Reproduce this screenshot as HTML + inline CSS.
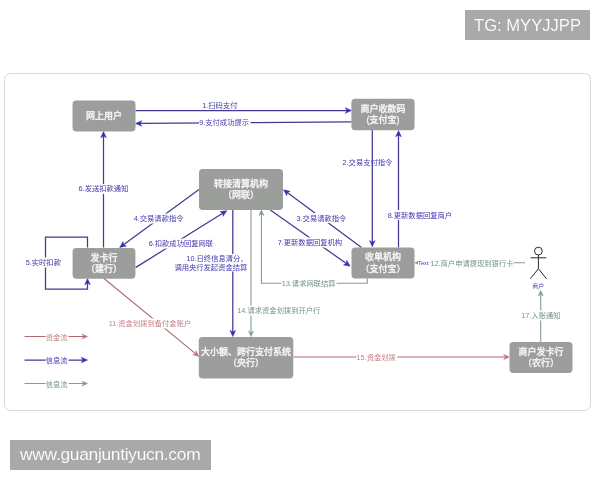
<!DOCTYPE html>
<html lang="zh"><head><meta charset="utf-8"><title>diagram</title>
<style>
html,body{margin:0;padding:0;background:#fff}
body{width:600px;height:480px;position:relative;overflow:hidden;font-family:"Liberation Sans","Noto Sans CJK SC",sans-serif}
.frame{position:absolute;left:3.8px;top:72.6px;width:587px;height:338.4px;border:1.3px solid #d8d8dc;border-radius:6.5px;box-sizing:border-box;background:#fff}
.tag{position:absolute;will-change:transform;background:#a9a9a9;color:#fff;font-size:16.6px;white-space:nowrap;display:flex;align-items:center;justify-content:center;-webkit-text-stroke:0.12px #a9a9a9;}
.tag span{position:relative;top:1px}
.t2 span{top:0.2px;left:-0.3px}
.t1{left:465px;top:10px;width:125px;height:29.5px}
.t2{left:10px;top:440px;width:201px;height:29.5px;font-size:17.4px;letter-spacing:-0.3px}
</style></head><body>
<div class="frame"></div>
<svg width="600" height="480" viewBox="0 0 600 480" style="position:absolute;left:0;top:0;will-change:transform;filter:blur(0.35px);font-family:'Liberation Sans','Noto Sans CJK SC',sans-serif">
<path d="M135.50 110.50 L348.50 110.50" fill="none" stroke="#403a93" stroke-width="1.25"/>
<polygon points="351.50,110.50 345.30,113.30 346.90,110.50 345.30,107.70" fill="#352fb0" stroke="#352fb0" stroke-width="0.5" stroke-linejoin="miter"/>
<path d="M351.50 121.80 L138.50 123.48" fill="none" stroke="#403a93" stroke-width="1.25"/>
<polygon points="135.50,123.50 141.68,120.65 140.10,123.46 141.72,126.25" fill="#352fb0" stroke="#352fb0" stroke-width="0.5" stroke-linejoin="miter"/>
<path d="M372.30 130.00 L372.30 243.80" fill="none" stroke="#403a93" stroke-width="1.25"/>
<polygon points="372.30,246.80 369.50,240.60 372.30,242.20 375.10,240.60" fill="#352fb0" stroke="#352fb0" stroke-width="0.5" stroke-linejoin="miter"/>
<path d="M398.50 247.50 L398.50 133.50" fill="none" stroke="#403a93" stroke-width="1.25"/>
<polygon points="398.50,130.50 401.30,136.70 398.50,135.10 395.70,136.70" fill="#352fb0" stroke="#352fb0" stroke-width="0.5" stroke-linejoin="miter"/>
<path d="M103.50 247.50 L103.50 134.50" fill="none" stroke="#403a93" stroke-width="1.25"/>
<polygon points="103.50,131.50 106.30,137.70 103.50,136.10 100.70,137.70" fill="#352fb0" stroke="#352fb0" stroke-width="0.5" stroke-linejoin="miter"/>
<path d="M87.50 247.50 L87.50 237.00 L45.50 237.00 L45.50 289.00 L87.50 289.00 L87.50 281.50" fill="none" stroke="#403a93" stroke-width="1.25"/>
<polygon points="87.50,278.50 90.30,284.70 87.50,283.10 84.70,284.70" fill="#352fb0" stroke="#352fb0" stroke-width="0.5" stroke-linejoin="miter"/>
<path d="M199.00 189.50 L122.12 245.73" fill="none" stroke="#403a93" stroke-width="1.25"/>
<polygon points="119.70,247.50 123.05,241.58 123.41,244.78 126.36,246.10" fill="#352fb0" stroke="#352fb0" stroke-width="0.5" stroke-linejoin="miter"/>
<path d="M135.50 267.60 L224.25 212.29" fill="none" stroke="#403a93" stroke-width="1.25"/>
<polygon points="226.80,210.70 223.02,216.36 222.90,213.13 220.06,211.60" fill="#352fb0" stroke="#352fb0" stroke-width="0.5" stroke-linejoin="miter"/>
<path d="M361.50 247.50 L285.91 191.58" fill="none" stroke="#403a93" stroke-width="1.25"/>
<polygon points="283.50,189.80 290.15,191.24 287.20,192.54 286.82,195.74" fill="#352fb0" stroke="#352fb0" stroke-width="0.5" stroke-linejoin="miter"/>
<path d="M270.30 210.00 L347.75 264.47" fill="none" stroke="#403a93" stroke-width="1.25"/>
<polygon points="350.20,266.20 343.52,264.92 346.44,263.55 346.74,260.34" fill="#352fb0" stroke="#352fb0" stroke-width="0.5" stroke-linejoin="miter"/>
<path d="M232.80 210.00 L232.80 333.60" fill="none" stroke="#403a93" stroke-width="1.25"/>
<polygon points="232.80,336.60 230.00,330.40 232.80,332.00 235.60,330.40" fill="#352fb0" stroke="#352fb0" stroke-width="0.5" stroke-linejoin="miter"/>
<path d="M251.00 210.00 L251.00 333.50" fill="none" stroke="#879c93" stroke-width="1.1"/>
<polygon points="251.00,336.50 248.50,330.90 251.00,332.90 253.50,330.90" fill="#789d8c" stroke="#789d8c" stroke-width="0.5" stroke-linejoin="miter"/>
<path d="M367.30 278.50 L367.30 283.30 L261.40 283.30 L261.40 213.00" fill="none" stroke="#879c93" stroke-width="1.1"/>
<polygon points="261.40,210.00 263.90,215.60 261.40,213.60 258.90,215.60" fill="#789d8c" stroke="#789d8c" stroke-width="0.5" stroke-linejoin="miter"/>
<path d="M525.00 262.80 L417.80 262.80" fill="none" stroke="#879c93" stroke-width="1.1"/>
<polygon points="414.80,262.80 418.30,261.20 417.50,262.80 418.30,264.40" fill="#789d8c" stroke="#789d8c" stroke-width="0.5" stroke-linejoin="miter"/>
<path d="M540.70 342.00 L540.70 293.50" fill="none" stroke="#879c93" stroke-width="1.1"/>
<polygon points="540.70,290.50 543.20,296.10 540.70,294.10 538.20,296.10" fill="#789d8c" stroke="#789d8c" stroke-width="0.5" stroke-linejoin="miter"/>
<path d="M104.00 278.50 L196.38 354.40" fill="none" stroke="#b0686f" stroke-width="1.1"/>
<polygon points="198.70,356.30 192.79,354.68 195.92,354.01 195.96,350.81" fill="#c06a78" stroke="#c06a78" stroke-width="0.5" stroke-linejoin="miter"/>
<path d="M293.50 357.00 L506.30 357.00" fill="none" stroke="#b0686f" stroke-width="1.1"/>
<polygon points="509.30,357.00 503.70,359.50 505.70,357.00 503.70,354.50" fill="#c06a78" stroke="#c06a78" stroke-width="0.5" stroke-linejoin="miter"/>
<path d="M24.50 336.50 L84.50 336.50" fill="none" stroke="#b0686f" stroke-width="1.1"/>
<polygon points="87.50,336.50 81.90,339.00 83.90,336.50 81.90,334.00" fill="#c06a78" stroke="#c06a78" stroke-width="0.5" stroke-linejoin="miter"/>
<path d="M24.50 360.00 L84.50 360.00" fill="none" stroke="#403a93" stroke-width="1.25"/>
<polygon points="87.50,360.00 81.30,362.80 82.90,360.00 81.30,357.20" fill="#352fb0" stroke="#352fb0" stroke-width="0.5" stroke-linejoin="miter"/>
<path d="M24.50 383.50 L84.50 383.50" fill="none" stroke="#879c93" stroke-width="1.1"/>
<polygon points="87.50,383.50 81.90,386.00 83.90,383.50 81.90,381.00" fill="#789d8c" stroke="#789d8c" stroke-width="0.5" stroke-linejoin="miter"/>
<rect x="72.5" y="100.5" width="63.0" height="31.0" rx="3.7" fill="#9c9e9c"/>
<text x="104.0" y="116.00" font-size="9" font-weight="500" fill="#f6f6f6" stroke="#f6f6f6" stroke-width="0.28" text-anchor="middle" dominant-baseline="central">网上用户</text>
<rect x="351.4" y="98.8" width="63.200000000000045" height="31.500000000000014" rx="3.7" fill="#9c9e9c"/>
<text x="383.0" y="108.80" font-size="9" font-weight="500" fill="#f6f6f6" stroke="#f6f6f6" stroke-width="0.28" text-anchor="middle" dominant-baseline="central">商户收款码</text>
<text x="383.0" y="120.30" font-size="9" font-weight="500" fill="#f6f6f6" stroke="#f6f6f6" stroke-width="0.28" text-anchor="middle" dominant-baseline="central">(支付宝)</text>
<rect x="199" y="169" width="84" height="41" rx="3.7" fill="#9c9e9c"/>
<text x="241.0" y="183.75" font-size="9" font-weight="500" fill="#f6f6f6" stroke="#f6f6f6" stroke-width="0.28" text-anchor="middle" dominant-baseline="central">转接清算机构</text>
<text x="241.0" y="195.25" font-size="9" font-weight="500" fill="#f6f6f6" stroke="#f6f6f6" stroke-width="0.28" text-anchor="middle" dominant-baseline="central">（网联）</text>
<rect x="72.6" y="247.9" width="62.80000000000001" height="30.900000000000006" rx="3.7" fill="#9c9e9c"/>
<text x="104.0" y="257.60" font-size="9" font-weight="500" fill="#f6f6f6" stroke="#f6f6f6" stroke-width="0.28" text-anchor="middle" dominant-baseline="central">发卡行</text>
<text x="104.0" y="269.10" font-size="9" font-weight="500" fill="#f6f6f6" stroke="#f6f6f6" stroke-width="0.28" text-anchor="middle" dominant-baseline="central">（建行）</text>
<rect x="351.5" y="247.5" width="63.0" height="31.0" rx="3.7" fill="#9c9e9c"/>
<text x="383.0" y="257.25" font-size="9" font-weight="500" fill="#f6f6f6" stroke="#f6f6f6" stroke-width="0.28" text-anchor="middle" dominant-baseline="central">收单机构</text>
<text x="383.0" y="268.75" font-size="9" font-weight="500" fill="#f6f6f6" stroke="#f6f6f6" stroke-width="0.28" text-anchor="middle" dominant-baseline="central">（支付宝）</text>
<rect x="198.8" y="337" width="94.5" height="41.39999999999998" rx="3.7" fill="#9c9e9c"/>
<text x="246.05" y="351.95" font-size="9" font-weight="500" fill="#f6f6f6" stroke="#f6f6f6" stroke-width="0.28" text-anchor="middle" dominant-baseline="central">大小额、跨行支付系统</text>
<text x="246.05" y="363.45" font-size="9" font-weight="500" fill="#f6f6f6" stroke="#f6f6f6" stroke-width="0.28" text-anchor="middle" dominant-baseline="central">（央行）</text>
<rect x="509.5" y="342" width="63.0" height="31" rx="3.7" fill="#9c9e9c"/>
<text x="541.0" y="351.75" font-size="9" font-weight="500" fill="#f6f6f6" stroke="#f6f6f6" stroke-width="0.28" text-anchor="middle" dominant-baseline="central">商户发卡行</text>
<text x="541.0" y="363.25" font-size="9" font-weight="500" fill="#f6f6f6" stroke="#f6f6f6" stroke-width="0.28" text-anchor="middle" dominant-baseline="central">（农行）</text>
<text x="202.20" y="105.10" font-size="7.3" fill="#4239ab" dominant-baseline="central">1.扫码支付</text>
<rect x="199.00" y="117.50" width="51.50" height="10" fill="#fff"/>
<text x="199.20" y="122.50" font-size="7.3" fill="#4239ab" dominant-baseline="central">9.支付成功提示</text>
<text x="342.50" y="162.90" font-size="7.3" fill="#4239ab" dominant-baseline="central">2.交易支付指令</text>
<rect x="387.50" y="210.00" width="65.50" height="10" fill="#fff"/>
<text x="387.70" y="215.00" font-size="7.3" fill="#4239ab" dominant-baseline="central">8.更新数据回复商户</text>
<rect x="78.40" y="183.90" width="51.10" height="10" fill="#fff"/>
<text x="78.60" y="188.90" font-size="7.3" fill="#4239ab" dominant-baseline="central">6.发送扣款通知</text>
<rect x="25.50" y="257.50" width="36.50" height="10" fill="#fff"/>
<text x="25.70" y="262.50" font-size="7.3" fill="#4239ab" dominant-baseline="central">5.实时扣款</text>
<rect x="133.50" y="213.50" width="50.50" height="10" fill="#fff"/>
<text x="133.70" y="218.50" font-size="7.3" fill="#4239ab" dominant-baseline="central">4.交易请款指令</text>
<rect x="148.50" y="238.60" width="66.00" height="10" fill="#fff"/>
<text x="148.70" y="243.60" font-size="7.3" fill="#4239ab" dominant-baseline="central">6.扣款成功回复网联</text>
<rect x="296.30" y="213.00" width="50.70" height="10" fill="#fff"/>
<text x="296.50" y="218.00" font-size="7.3" fill="#4239ab" dominant-baseline="central">3.交易请款指令</text>
<rect x="277.50" y="237.50" width="65.50" height="10" fill="#fff"/>
<text x="277.70" y="242.50" font-size="7.3" fill="#4239ab" dominant-baseline="central">7.更新数据回复机构</text>
<rect x="174" y="254" width="74" height="17.5" fill="#fff"/>
<text x="186.40" y="258.90" font-size="7.3" fill="#4239ab" dominant-baseline="central">10.日终信息清分，</text>
<text x="174.40" y="267.40" font-size="7.3" fill="#4239ab" dominant-baseline="central">调用央行发起资金结算</text>
<rect x="281.50" y="278.90" width="55.00" height="10" fill="#fff"/>
<text x="281.70" y="283.90" font-size="7.3" fill="#73938a" dominant-baseline="central">13.请求网联结算</text>
<rect x="237.10" y="305.50" width="83.40" height="10" fill="#fff"/>
<text x="237.30" y="310.50" font-size="7.3" fill="#73938a" dominant-baseline="central">14.请求资金划拨到开户行</text>
<rect x="108.50" y="318.50" width="83.00" height="10" fill="#fff"/>
<text x="108.70" y="323.50" font-size="7.3" fill="#c67f88" dominant-baseline="central">11.资金划拨到备付金账户</text>
<rect x="356.30" y="352.70" width="41.00" height="10" fill="#fff"/>
<text x="356.50" y="357.70" font-size="7.3" fill="#c67f88" dominant-baseline="central">15.资金划拨</text>
<rect x="521.00" y="310.50" width="40.50" height="10" fill="#fff"/>
<text x="521.20" y="315.50" font-size="7.3" fill="#73938a" dominant-baseline="central">17.入账通知</text>
<rect x="418.00" y="259.80" width="11.80" height="7" fill="#fff"/>
<text x="418.00" y="263.30" font-size="5.8" fill="#4239ab" dominant-baseline="central">Text</text>
<rect x="430.20" y="258.30" width="83.60" height="10" fill="#fff"/>
<text x="430.40" y="263.30" font-size="7.3" fill="#73938a" dominant-baseline="central">12.商户申请提现到银行卡</text>
<rect x="45.50" y="332.00" width="23.00" height="10" fill="#fff"/>
<text x="45.70" y="337.00" font-size="7.3" fill="#c67f88" dominant-baseline="central">资金流</text>
<rect x="45.50" y="355.50" width="23.00" height="10" fill="#fff"/>
<text x="45.70" y="360.50" font-size="7.3" fill="#4239ab" dominant-baseline="central">信息流</text>
<rect x="45.50" y="379.00" width="23.00" height="10" fill="#fff"/>
<text x="45.70" y="384.00" font-size="7.3" fill="#73938a" dominant-baseline="central">信息流</text>
<text x="532.30" y="286.10" font-size="5.9" fill="#4239ab" dominant-baseline="central">商户</text>
<g stroke="#2a2a2a" stroke-width="1" fill="none"><circle cx="538.4" cy="251.1" r="3.9" fill="#fff"/><path d="M538.4 255V268.7M530.6 257.8H546.3M538.4 268.7L530.3 278.8M538.4 268.7L546.5 278.8"/></g>
</svg>
<div class="tag t1"><span>TG: MYYJJPP</span></div>
<div class="tag t2"><span>www.guanjuntiyucn.com</span></div>
</body></html>
